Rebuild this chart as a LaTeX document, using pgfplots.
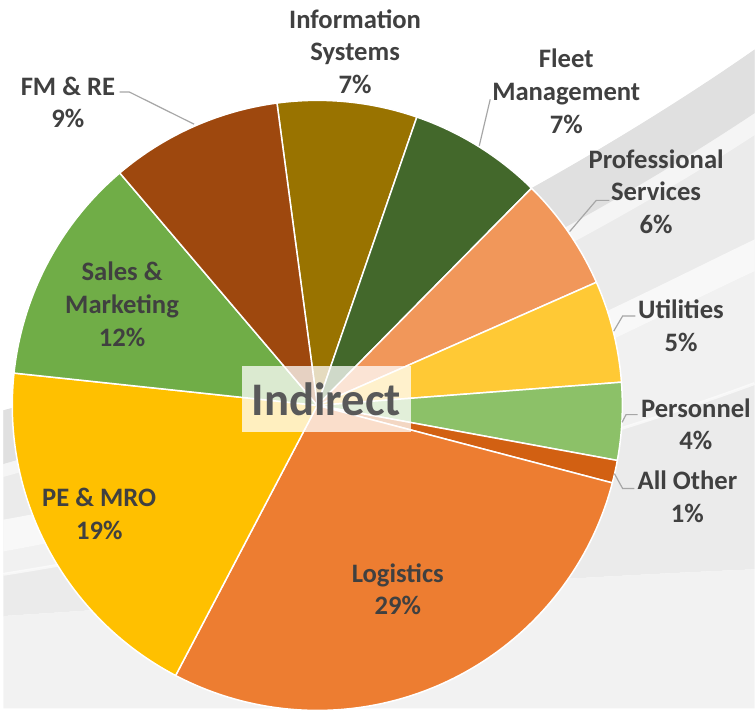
\documentclass[border=0pt]{standalone}
\usepackage{pgfplots}
\usepackage{pgfplotstable}
\pgfplotsset{compat=1.18}
\usepackage{fontspec}
\setmainfont{Carlito}

\definecolor{c0}{HTML}{997300}
\definecolor{c1}{HTML}{43682B}
\definecolor{c2}{HTML}{F1975A}
\definecolor{c3}{HTML}{FFC935}
\definecolor{c4}{HTML}{8CC168}
\definecolor{c5}{HTML}{D26012}
\definecolor{c6}{HTML}{ED7D31}
\definecolor{c7}{HTML}{FFC000}
\definecolor{c8}{HTML}{70AD47}
\definecolor{c9}{HTML}{9E480E}
\definecolor{lblgray}{HTML}{404040}
\definecolor{indgray}{HTML}{595959}
\definecolor{leadgray}{HTML}{A6A6A6}

\tikzset{
  lbl/.style={align=center, inner sep=0pt, text=lblgray,
    font=\bfseries\fontsize{13.4}{16.5}\selectfont},
}
\pgfplotsset{
  leader/.style={leadgray, line width=0.6pt, no markers, sharp plot, forget plot},
}

% slices clockwise from the top (start angle 97.6 deg), values in percent
\pgfplotstableread{
slice value
Info 7.4
Fleet 7.1
Prof 6.0
Util 5.4
Pers 4.1
Other 1.2
Log 28.6
PE 19.0
Sales 12.1
FM 9.1
}\piedata
\pgfplotstablecreatecol[create col/expr accum={\pgfmathaccuma + \thisrow{value}}{0}]{cum}\piedata

\begin{document}
\begin{tikzpicture}
\begin{axis}[
  x=0.5pt, y=0.5pt,
  xmin=-316, xmax=440, ymin=-305, ymax=408,
  hide axis, clip=false,
]
% ---- background
\path (axis cs:-316,-305) rectangle (axis cs:440,408);
\fill[black!8] (axis cs:440,358) .. controls (axis cs:300,260) and (axis cs:0,80) .. (axis cs:-316,-5)
  -- (axis cs:-316,-212) .. controls (axis cs:-50,-195) and (axis cs:200,-175) .. (axis cs:440,-165) -- cycle;
\fill[black!5] (axis cs:-316,-212) .. controls (axis cs:-50,-195) and (axis cs:200,-175) .. (axis cs:440,-165)
  -- (axis cs:440,-305) -- (axis cs:-316,-305) -- cycle;
\fill[black!12] (axis cs:440,358) .. controls (axis cs:300,260) and (axis cs:0,80) .. (axis cs:-316,-5)
  -- (axis cs:-316,-59) .. controls (axis cs:0,30) and (axis cs:300,200) .. (axis cs:440,294) -- cycle;
\fill[white, opacity=0.5] (axis cs:440,294) .. controls (axis cs:300,200) and (axis cs:0,30) .. (axis cs:-316,-59)
  -- (axis cs:-316,-72) .. controls (axis cs:0,15) and (axis cs:300,180) .. (axis cs:440,272) -- cycle;
\fill[white, opacity=0.65] (axis cs:440,167) .. controls (axis cs:300,100) and (axis cs:0,-60) .. (axis cs:-316,-115)
  -- (axis cs:-316,-147) .. controls (axis cs:0,-92) and (axis cs:300,70) .. (axis cs:440,135) -- cycle;
\fill[white, opacity=0.3] (axis cs:440,135) .. controls (axis cs:300,70) and (axis cs:0,-92) .. (axis cs:-316,-147)
  -- (axis cs:-316,-170) .. controls (axis cs:0,-120) and (axis cs:300,-30) .. (axis cs:440,22) -- cycle;
\draw[white, opacity=0.6, line width=1.5pt] (axis cs:440,22) .. controls (axis cs:300,-30) and (axis cs:0,-120) .. (axis cs:-316,-170);

% ---- pie wedges from the table
\pgfplotsinvokeforeach{0,...,9}{
  \pgfplotstablegetelem{#1}{value}\of\piedata \let\pv\pgfplotsretval
  \pgfplotstablegetelem{#1}{cum}\of\piedata \let\pcum\pgfplotsretval
  \pgfmathsetmacro\pea{97.6-3.6*\pcum}
  \pgfmathsetmacro\psa{\pea+3.6*\pv}
  \edef\temp{\noexpand\fill[c#1, draw=white, line width=0.75pt, line join=round]
    (axis cs:0,0) -- (axis cs:{307*cos(\psa)},{307*sin(\psa)})
    arc[start angle=\psa, end angle=\pea, radius=153.5pt] -- cycle;}
  \temp
}

% ---- leader lines
\addplot[leader] coordinates {(-199,315.3) (-189,315.3) (-124,283)};
\addplot[leader] coordinates {(174,308) (163,261.3)};
\addplot[leader] coordinates {(294,206.3) (280.7,206.3) (254,175)};
\addplot[leader] coordinates {(320,90) (307.3,90) (298.3,74.7)};
\addplot[leader] coordinates {(322.3,-9.3) (310.7,-9.3) (306.7,-17)};
\addplot[leader] coordinates {(299,-68.7) (307.3,-83.7) (319,-83.7)};

% ---- labels
\node[lbl] at (axis cs:38,356) {Information\\Systems\\7\%};
\node[lbl] at (axis cs:250.5,316) {Fleet\\Management\\7\%};
\node[lbl] at (axis cs:341,215) {Professional\\Services\\6\%};
\node[lbl] at (axis cs:366,80) {Utilities\\5\%};
\node[lbl] at (axis cs:381,-19) {Personnel\\4\%};
\node[lbl] at (axis cs:372.5,-92) {All Other\\1\%};
\node[lbl] at (axis cs:81,-185) {Logistics\\29\%};
\node[lbl] at (axis cs:-219.5,-109) {PE \& MRO\\19\%};
\node[lbl] at (axis cs:-196.5,102) {Sales \&\\Marketing\\12\%};
\node[lbl] at (axis cs:-251,305) {FM \& RE\\9\%};

% ---- centre title
\fill[white, opacity=0.75] (axis cs:-76,40) rectangle (axis cs:94,-27);
\node[inner sep=0pt, text=indgray, font=\bfseries\fontsize{23.5}{28}\selectfont] at (axis cs:9,6.5) {Indirect};
\end{axis}
\end{tikzpicture}
\end{document}
